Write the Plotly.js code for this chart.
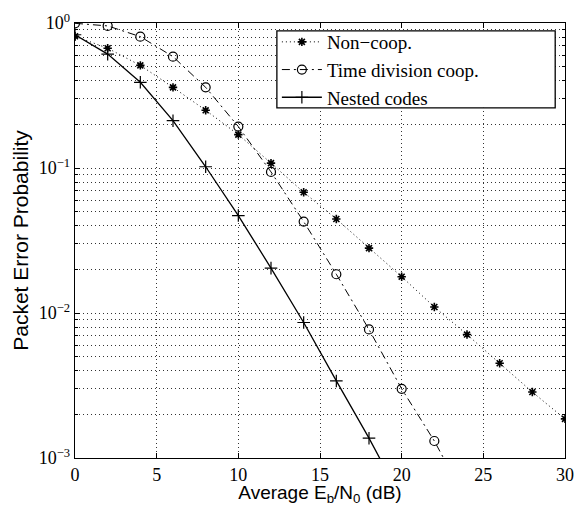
<!DOCTYPE html>
<html><head><meta charset="utf-8">
<script src="https://cdn.plot.ly/plotly-3.0.1.min.js"></script>
<style>html,body{margin:0;padding:0;background:#fff}#plot{width:578px;height:506px}</style>
</head><body><div id="plot"></div>
<script>
var snr = [0,2,4,6,8,10,12,14,16,18,20,22,24,26,28,30];
var nonCoop = [0.81,0.67,0.51,0.36,0.25,0.17,0.108,0.068,0.0445,0.028,0.0178,0.011,0.0071,0.0045,0.00285,0.00186];
var snrTD = [0,2,4,6,8,10,12,14,16,18,20,22,24];
var timeDiv = [0.995,0.955,0.805,0.586,0.36,0.193,0.094,0.0427,0.0185,0.0077,0.0030,0.00131,0.0005];
var snrNC = [0,2,4,6,8,10,12,14,16,18,20];
var nested = [0.83,0.61,0.39,0.212,0.102,0.047,0.0204,0.0086,0.0034,0.00137,0.00052];
var seriesNames = ['Non−coop.','Time division coop.','Nested codes'];
var yTickVals = [1,0.1,0.01,0.001];
var yTickText = ['10<sup>0</sup>','10<sup>−1</sup>','10<sup>−2</sup>','10<sup>−3</sup>'];
var xTickVals = [0,5,10,15,20,25,30];

var minorY = [];
[0.001,0.01,0.1].forEach(function(d){for(var k=2;k<=9;k++){minorY.push(d*k);}});

var serif = "'Liberation Serif', 'Times New Roman', Times, serif";
var sans = "'Liberation Sans', Arial, Helvetica, sans-serif";
var gdash = '1px,3px';

var traces = [
 {x:snr,y:nonCoop,name:seriesNames[0],mode:'lines+markers',
  line:{color:'#000',width:1,dash:'1px,3px'},
  marker:{symbol:'asterisk-open',size:7,color:'#000',line:{color:'#000',width:1.6}}},
 {x:snrTD,y:timeDiv,name:seriesNames[1],mode:'lines+markers',
  line:{color:'#000',width:1,dash:'8px,4px,2px,4px'},
  marker:{symbol:'circle-open',size:9,color:'#000',line:{color:'#000',width:1.2}}},
 {x:snrNC,y:nested,name:seriesNames[2],mode:'lines+markers',
  line:{color:'#000',width:1.3},
  marker:{symbol:'cross-thin-open',size:9,color:'#000',line:{color:'#000',width:1.2}}}
];

var layout = {
 width:578,height:506,
 margin:{l:75,r:13,t:23,b:48},
 paper_bgcolor:'#fff',plot_bgcolor:'#fff',
 showlegend:true,
 legend:{x:0.412,y:1.0,xanchor:'left',yanchor:'top',bgcolor:'rgba(0,0,0,0)',borderwidth:0,
   font:{family:serif,size:19,color:'#000'},tracegroupgap:0,itemwidth:40},
 shapes:[{type:'rect',xref:'paper',yref:'paper',x0:0.412,x1:0.98,y0:0.805,y1:0.982,
   layer:'above',fillcolor:'#fff',line:{color:'#000',width:1.3}}],
 xaxis:{range:[0,30],tickmode:'array',tickvals:xTickVals,ticks:'inside',ticklen:5,tickcolor:'#000',
   showline:true,linecolor:'#000',linewidth:1.3,mirror:'allticks',zeroline:false,
   showgrid:true,gridcolor:'#333',griddash:gdash,gridwidth:1,
   tickfont:{family:serif,size:18,color:'#000'},
   title:{text:'Average E<sub>b</sub>/N<sub>0</sub> (dB)',standoff:6,
     font:{family:sans,size:19,color:'#000'}}},
 yaxis:{type:'log',range:[-3,0],tickmode:'array',tickvals:yTickVals,ticktext:yTickText,
   ticks:'inside',ticklen:5,tickcolor:'#000',
   showline:true,linecolor:'#000',linewidth:1.3,mirror:'allticks',zeroline:false,
   showgrid:true,gridcolor:'#333',griddash:gdash,gridwidth:1,
   minor:{tickmode:'array',tickvals:minorY,ticks:'inside',ticklen:3,tickcolor:'#000',
     showgrid:true,gridcolor:'#333',griddash:gdash,gridwidth:1},
   tickfont:{family:serif,size:18,color:'#000'},
   title:{text:'Packet Error Probability',standoff:4,
     font:{family:sans,size:21,color:'#000'}}}
};
Plotly.newPlot('plot',traces,layout,{displayModeBar:false,staticPlot:true});
</script></body></html>
